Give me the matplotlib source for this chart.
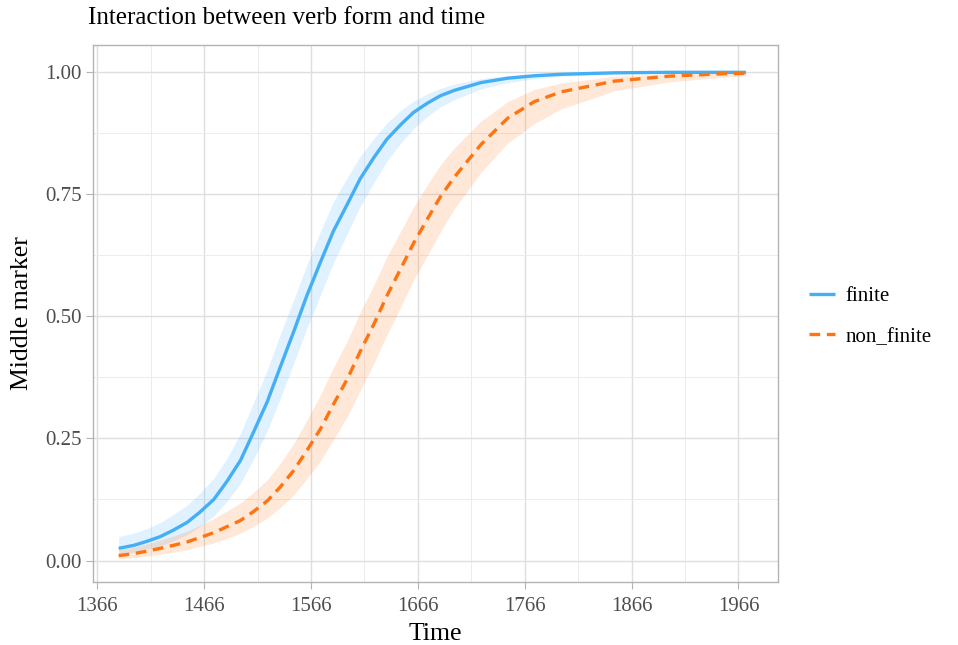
import matplotlib
matplotlib.use("Agg")
import matplotlib.pyplot as plt
import numpy as np

plt.rcParams['font.family'] = ['Liberation Serif', 'DejaVu Serif']

# years along the curve
years = [1386, 1400, 1412, 1425, 1437, 1450, 1462, 1475, 1487, 1500, 1512, 1525,
         1537, 1550, 1562, 1575, 1587, 1600, 1612, 1625, 1637, 1650, 1662, 1675,
         1687, 1700, 1725, 1750, 1775, 1800, 1850, 1900, 1950, 1973]

# finite: fitted value and ribbon
finite_fit = [0.025, 0.031, 0.039, 0.049, 0.062, 0.078, 0.099, 0.125, 0.161, 0.205, 0.262, 0.325,
              0.395, 0.470, 0.542, 0.612, 0.675, 0.730, 0.782, 0.826, 0.863, 0.893, 0.918, 0.937,
              0.952, 0.963, 0.979, 0.988, 0.993, 0.996, 0.999, 1.0, 1.0, 1.0]
finite_lo = [0.012, 0.017, 0.023, 0.030, 0.040, 0.053, 0.070, 0.091, 0.120, 0.158, 0.207, 0.265,
             0.331, 0.405, 0.475, 0.545, 0.610, 0.670, 0.725, 0.775, 0.818, 0.855, 0.885, 0.910,
             0.929, 0.944, 0.966, 0.979, 0.987, 0.992, 0.997, 0.999, 0.9997, 0.9998]
finite_hi = [0.049, 0.056, 0.065, 0.078, 0.094, 0.113, 0.138, 0.168, 0.208, 0.260, 0.322, 0.390,
             0.462, 0.535, 0.605, 0.675, 0.735, 0.785, 0.828, 0.865, 0.896, 0.922, 0.941, 0.956,
             0.967, 0.976, 0.987, 0.993, 0.996, 0.998, 0.9995, 1.0, 1.0, 1.0]

# non_finite: fitted value and ribbon
nonfin_fit = [0.010, 0.014, 0.019, 0.025, 0.031, 0.038, 0.047, 0.057, 0.069, 0.082, 0.100, 0.122,
              0.150, 0.185, 0.225, 0.270, 0.320, 0.372, 0.428, 0.485, 0.542, 0.598, 0.650, 0.700,
              0.745, 0.785, 0.852, 0.906, 0.940, 0.960, 0.982, 0.992, 0.997, 0.998]
nonfin_lo = [0.004, 0.006, 0.009, 0.013, 0.017, 0.022, 0.029, 0.036, 0.045, 0.056, 0.070, 0.087,
             0.108, 0.135, 0.167, 0.205, 0.248, 0.295, 0.348, 0.405, 0.462, 0.520, 0.575, 0.625,
             0.673, 0.720, 0.795, 0.855, 0.895, 0.925, 0.962, 0.980, 0.990, 0.993]
nonfin_hi = [0.022, 0.027, 0.034, 0.042, 0.050, 0.060, 0.072, 0.086, 0.101, 0.118, 0.139, 0.165,
             0.198, 0.240, 0.287, 0.340, 0.395, 0.450, 0.508, 0.565, 0.622, 0.675, 0.724, 0.770,
             0.810, 0.845, 0.900, 0.940, 0.965, 0.978, 0.992, 0.997, 0.999, 0.9995]

x_ticks = [1366, 1466, 1566, 1666, 1766, 1866, 1966]
y_ticks = [0.00, 0.25, 0.50, 0.75, 1.00]

blue = '#45aff5'
orange = '#ff7410'

W, H = 958, 645
fig = plt.figure(figsize=(W / 100, H / 100), dpi=100)
ax = fig.add_axes([93 / W, 1 - 582 / H, (778 - 93) / W, (582 - 45) / H])

ax.fill_between(years, finite_lo, finite_hi, color='#66bbff', alpha=0.2, lw=0)
ax.fill_between(years, nonfin_lo, nonfin_hi, color='#ff8c3a', alpha=0.2, lw=0)
ax.plot(years, finite_fit, color=blue, lw=2.4, label='finite', solid_capstyle='butt')
ax.plot(years, nonfin_fit, color=orange, lw=2.4, dashes=(3.2, 2.0), label='non_finite')

ax.set_xlim(1362, 2003)
ax.set_ylim(-0.044, 1.056)
ax.set_xticks(x_ticks)
ax.set_yticks(y_ticks)
ax.set_yticklabels(['%.2f' % v for v in y_ticks])
ax.set_xticks([1416, 1516, 1616, 1716, 1816, 1916], minor=True)
ax.set_yticks([0.125, 0.375, 0.625, 0.875], minor=True)
ax.grid(which='major', color='#dedede', lw=1.0)
ax.grid(which='minor', color='#ececec', lw=0.7)
ax.set_axisbelow(True)
ax.tick_params(which='major', length=5, width=0.8, color='#b3b3b3',
               labelsize=15, labelcolor='#4d4d4d', pad=3)
ax.tick_params(axis='x', which='major', pad=5.5)
ax.tick_params(which='minor', length=0)
for s in ax.spines.values():
    s.set_color('#b3b3b3')
    s.set_linewidth(1.0)

ax.set_xlabel('Time', fontsize=18.5, labelpad=5)
ax.set_ylabel('Middle marker', fontsize=18.5, labelpad=9)
fig.text(88 / W, 1 - 18 / H, 'Interaction between verb form and time',
         fontsize=18, va='center', ha='left')

leg = ax.legend(loc='center left', bbox_to_anchor=(1.018, 0.494), frameon=False,
                fontsize=15, handlelength=1.25, labelspacing=1.0, handletextpad=0.5)

fig.savefig('out.png', dpi=100)
